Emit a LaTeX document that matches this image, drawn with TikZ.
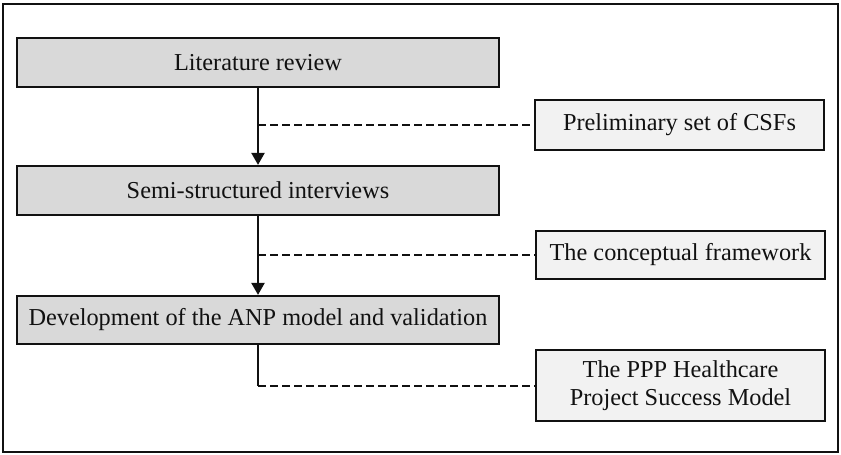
\documentclass[tikz,border=0pt]{standalone}
\usepackage{fontspec}
\setmainfont{Liberation Serif}
\usetikzlibrary{arrows.meta}
\definecolor{mainfill}{HTML}{D9D9D9}
\definecolor{sidefill}{HTML}{F2F2F2}
\definecolor{ink}{HTML}{111111}
\tikzset{
  stepbox/.style={draw=ink, line width=2.2pt, fill=mainfill, minimum width=482pt, minimum height=49pt, inner sep=0pt, font=\fontsize{24.3}{28}\selectfont, text=ink},
  outbox/.style={draw=ink, line width=2.2pt, fill=sidefill, minimum width=289pt, minimum height=49pt, inner sep=0pt, align=center, font=\fontsize{24.3}{27.5}\selectfont, text=ink},
  flow/.style={draw=ink, line width=2.2pt, -{Triangle[length=12pt,width=13pt]}},
  link/.style={draw=ink, line width=2pt, dash pattern=on 8pt off 4pt},
  solidlink/.style={draw=ink, line width=2.2pt}
}
\begin{document}
\begin{tikzpicture}[x=1pt,y=-1pt]
\useasboundingbox (0,0) rectangle (841,455);
\draw[draw=ink, line width=2.2pt] (3,4) rectangle (838,452);
\node[stepbox] (b1) at (258,62.5) {Literature review};
\node[stepbox] (b2) at (258,190.5) {Semi-structured interviews};
\node[stepbox, minimum height=48pt] (b3) at (258,320) {Development of the ANP model and validation};
\node[outbox, minimum height=50pt] (p1) at (679.5,125) {Preliminary set of CSFs};
\node[outbox, minimum height=48pt] (p2) at (680.5,255) {The conceptual framework};
\node[outbox, minimum height=71pt] (p3) at (680.5,385.5) {The PPP Healthcare\\Project Success Model};
\coordinate (j1) at (b1.south |- p1.west);
\coordinate (j2) at (b2.south |- p2.west);
\coordinate (j3) at (b3.south |- p3.west);
\draw[flow] (b1) -- (b2);
\draw[flow] (b2) -- (b3);
\draw[link] (j1) -- (p1.west);
\draw[link] (j2) -- (p2.west);
\draw[solidlink] (b3.south) -- (j3);
\draw[link] (j3) -- (p3.west);
\end{tikzpicture}
\end{document}
